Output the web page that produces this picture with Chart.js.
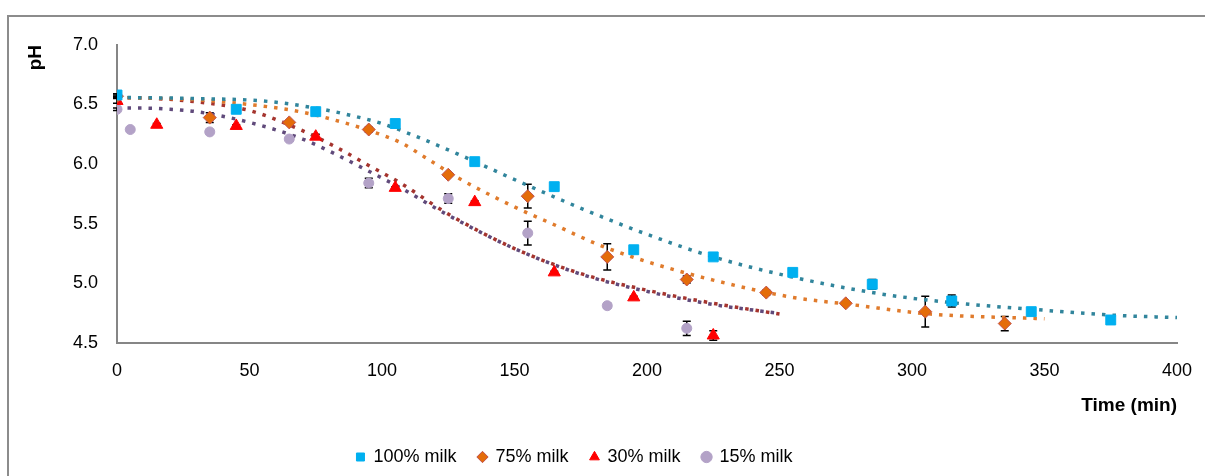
<!DOCTYPE html>
<html>
<head>
<meta charset="utf-8">
<script src="https://cdn.jsdelivr.net/npm/chart.js@4.4.1/dist/chart.umd.min.js"></script>
<style>
    html, body { margin: 0; padding: 0; background: #fff; }
    #wrap { position: relative; width: 1205px; height: 476px; overflow: hidden; }
    #frame {
        position: absolute; left: 7px; top: 15px; width: 1400px; height: 700px;
        border-left: 2px solid #8c8c8c; border-top: 2px solid #8c8c8c;
        pointer-events: none;
    }
</style>
</head>
<body>
<div id="wrap">
    <canvas id="ph-chart" width="1205" height="476"></canvas>
    <div id="frame"></div>
</div>
<script>
// Measured points (time in min, pH) with error bar half-widths
const t100 = [0, 45, 75, 105, 135, 165, 195, 225, 255, 285, 315, 345, 375];
const ph100 = [6.58, 6.46, 6.44, 6.34, 6.02, 5.81, 5.28, 5.22, 5.09, 4.99, 4.85, 4.76, 4.69];
const err100 = [0.01, 0.02, 0.01, 0.01, 0.01, 0.03, 0.03, 0.01, 0.01, 0.04, 0.05, 0.01, 0.01];

const t75 = [0, 35, 65, 95, 125, 155, 185, 215, 245, 275, 305, 335];
const ph75 = [6.57, 6.39, 6.35, 6.29, 5.91, 5.73, 5.22, 5.03, 4.92, 4.83, 4.76, 4.66];
const err75 = [0.01, 0.04, 0.01, 0.02, 0.01, 0.10, 0.11, 0.03, 0.02, 0.01, 0.13, 0.06];

const t30 = [0, 15, 45, 75, 105, 135, 165, 195, 225];
const ph30 = [6.53, 6.33, 6.32, 6.23, 5.80, 5.68, 5.09, 4.88, 4.56];
const err30 = [0.02, 0.01, 0.01, 0.02, 0.01, 0.01, 0.01, 0.01, 0.04];

const t15 = [0, 5, 35, 65, 95, 125, 155, 185, 215];
const ph15 = [6.46, 6.29, 6.27, 6.21, 5.84, 5.71, 5.42, 4.81, 4.62];
const err15 = [0.01, 0.01, 0.01, 0.01, 0.04, 0.04, 0.10, 0.02, 0.06];

// Fitted curves
const fitT100 = [0, 30, 55, 75, 88, 100, 112, 128, 152, 176, 200, 225, 255, 288, 313, 351, 376, 400];
const fit100 = [6.56, 6.55, 6.53, 6.47, 6.41, 6.34, 6.24, 6.09, 5.85, 5.62, 5.41, 5.22, 5.05, 4.91, 4.84, 4.77, 4.73, 4.71];

const fitT75 = [0, 30, 50, 69, 82, 94, 107, 116, 129, 150, 165, 182, 200, 225, 255, 275, 307, 350];
const fit75 = [6.56, 6.54, 6.50, 6.44, 6.37, 6.29, 6.18, 6.06, 5.88, 5.64, 5.49, 5.32, 5.18, 5.025, 4.88, 4.825, 4.74, 4.70];

const fitT30 = [0, 15, 31, 50, 69, 82, 94, 107, 125, 150, 175, 200, 225, 250];
const fit30 = [6.56, 6.55, 6.52, 6.45, 6.29, 6.15, 6.00, 5.84, 5.58, 5.29, 5.08, 4.94, 4.83, 4.74];

const fitT15 = [0, 10, 20, 30, 50, 70, 80, 95, 107, 125, 150, 175, 200, 225, 250];
const fit15 = [6.47, 6.47, 6.46, 6.44, 6.35, 6.21, 6.11, 5.94, 5.80, 5.57, 5.29, 5.075, 4.93, 4.82, 4.745];

const xTicks = [0, 50, 100, 150, 200, 250, 300, 350, 400];
const yTicks = [4.5, 5.0, 5.5, 6.0, 6.5, 7.0];

const toPoints = (xs, ys) => xs.map((x, i) => ({ x: x, y: ys[i] }));

function markerSet(label, xs, ys, errs, style, radius, fill, border) {
    return {
        label: label,
        data: toPoints(xs, ys),
        errorBars: errs,
        showLine: false,
        pointStyle: style,
        pointRadius: radius,
        pointBackgroundColor: fill,
        pointBorderColor: border,
        pointBorderWidth: 1,
        backgroundColor: fill,
        borderColor: border,
        order: 1
    };
}

function curveSet(xs, ys, color) {
    return {
        label: 'fit',
        data: toPoints(xs, ys),
        showLine: true,
        pointRadius: 0,
        borderColor: color,
        borderWidth: 3.5,
        borderDash: [3.5, 7],
        cubicInterpolationMode: 'monotone',
        fill: false,
        order: 2
    };
}

// Error bars drawn under the markers
const errorBarPlugin = {
    id: 'errorBars',
    beforeDatasetsDraw(chart) {
        const ctx = chart.ctx;
        const ys = chart.scales.y;
        ctx.save();
        ctx.strokeStyle = '#000';
        ctx.lineWidth = 1.5;
        chart.data.datasets.forEach((ds, di) => {
            if (!ds.errorBars) return;
            const meta = chart.getDatasetMeta(di);
            meta.data.forEach((pt, i) => {
                const e = ds.errorBars[i];
                const v = ds.data[i].y;
                const top = ys.getPixelForValue(v + e);
                const bot = ys.getPixelForValue(v - e);
                ctx.beginPath();
                ctx.moveTo(pt.x, top);
                ctx.lineTo(pt.x, bot);
                ctx.moveTo(pt.x - 4, top);
                ctx.lineTo(pt.x + 4, top);
                ctx.moveTo(pt.x - 4, bot);
                ctx.lineTo(pt.x + 4, bot);
                ctx.stroke();
            });
        });
        ctx.restore();
    }
};

// Legend sits a little left of the centre in the original
const legendShift = {
    id: 'legendShift',
    afterLayout(chart) {
        if (chart.legend) {
            chart.legend.left -= 26;
            chart.legend.right -= 26;
        }
    }
};

const axisGrey = '#868686';
const font = { family: 'Liberation Sans, Arial, sans-serif', size: 18 };
const titleFont = { family: 'Liberation Sans, Arial, sans-serif', size: 19, weight: 'bold' };

new Chart(document.getElementById('ph-chart'), {
    type: 'scatter',
    data: {
        datasets: [
            markerSet('100% milk', t100, ph100, err100, 'rect', 7, '#00b0f0', '#00b0f0'),
            markerSet('75% milk', t75, ph75, err75, 'rectRot', 6.5, '#e46c0a', '#c0504d'),
            markerSet('30% milk', t30, ph30, err30, 'triangle', 7, '#ff0000', '#ff0000'),
            markerSet('15% milk', t15, ph15, err15, 'circle', 5, '#b3a2c7', '#b3a2c7'),
            curveSet(fitT100, fit100, '#31859c'),
            curveSet(fitT75, fit75, '#e07b2c'),
            curveSet(fitT30, fit30, '#a5342e'),
            curveSet(fitT15, fit15, '#604a7b')
        ]
    },
    options: {
        responsive: false,
        animation: false,
        layout: { padding: { left: 24, top: 45, right: 28, bottom: 0 } },
        plugins: {
            tooltip: { enabled: false },
            legend: {
                position: 'bottom',
                labels: {
                    usePointStyle: true,
                    boxWidth: 8,
                    boxHeight: 8,
                    padding: 22,
                    color: '#000',
                    font: font,
                    filter: item => item.text !== 'fit'
                }
            }
        },
        scales: {
            x: {
                type: 'linear',
                min: 0,
                max: 400,
                afterBuildTicks: axis => { axis.ticks = xTicks.map(v => ({ value: v })); },
                grid: { display: false, drawTicks: true, tickLength: 6, tickColor: axisGrey, tickWidth: 2 },
                border: { color: axisGrey, width: 2 },
                ticks: { color: '#000', font: font, padding: 12 },
                title: { display: true, text: 'Time (min)', align: 'end', color: '#000', font: titleFont, padding: { top: 0, bottom: 9 } }
            },
            y: {
                min: 4.5,
                max: 7.0,
                afterBuildTicks: axis => { axis.ticks = yTicks.map(v => ({ value: v })); },
                afterFit: scale => { scale.width = 93; },
                grid: { display: false, drawTicks: true, tickLength: 6, tickColor: axisGrey, tickWidth: 2 },
                border: { color: axisGrey, width: 2 },
                ticks: { color: '#000', font: font, padding: 13, callback: v => v.toFixed(1) },
                title: { display: true, text: 'pH', align: 'end', color: '#000', font: titleFont, padding: 0 }
            }
        }
    },
    plugins: [errorBarPlugin, legendShift]
});
</script>
</body>
</html>
